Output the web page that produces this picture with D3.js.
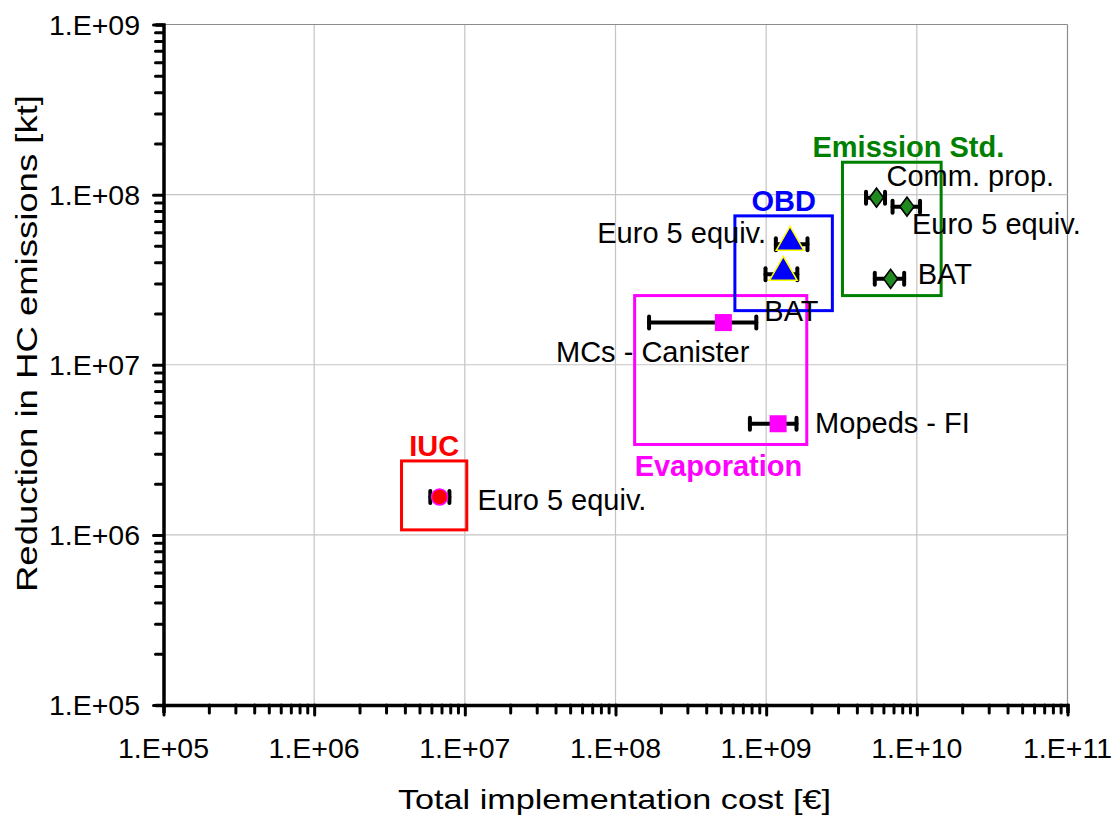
<!DOCTYPE html>
<html>
<head>
<meta charset="utf-8">
<script src="https://cdn.jsdelivr.net/npm/d3@7"></script>
<style>
  body { margin: 0; background: #fff; }
  svg text { font-family: "Liberation Sans", Arial, sans-serif; }
</style>
</head>
<body>
<div id="graph"></div>
<script>
//Javascript Document

// group names and colours
var groups = ["IUC", "Evaporation", "OBD", "Emission Std."];
var groupColors = ["#ff0000", "#ff00ff", "#0000ff", "#008000"];

// measures: name, group index, cost (x), low/high cost, HC reduction (y)
var names    = ["Euro 5 equiv.", "MCs - Canister", "Mopeds - FI", "Euro 5 equiv.", "BAT", "Comm. prop.", "Euro 5 equiv.", "BAT"];
var groupOf  = [0, 1, 1, 2, 2, 3, 3, 3];
var costs    = [6.8e6, 5.2e8, 1.2e9, 1.44e9, 1.30e9, 5.4e9, 8.6e9, 6.7e9];
var costLow  = [5.9e6, 1.67e8, 7.8e8, 1.16e9, 9.9e8, 4.6e9, 6.9e9, 5.26e9];
var costHigh = [7.9e6, 8.6e8, 1.59e9, 1.88e9, 1.61e9, 6.15e9, 1.05e10, 8.24e9];
var reductions = [1.67e6, 1.77e7, 4.5e6, 5.1e7, 3.4e7, 9.6e7, 8.5e7, 3.2e7];

// group boxes drawn round each set of measures: [xMin, xMax, yMin, yMax]
var boxX = [[3.8e6, 1.03e7], [1.34e8, 1.86e9], [6.2e8, 2.75e9], [3.21e9, 1.45e10]];
var boxY = [[1.07e6, 2.72e6], [3.4e6, 2.55e7], [2.08e7, 7.5e7], [2.55e7, 1.55e8]];

// axis ticks
var xTicks = [1e5, 1e6, 1e7, 1e8, 1e9, 1e10, 1e11];
var yTicks = [1e5, 1e6, 1e7, 1e8, 1e9];
var xTickLabels = ["1.E+05", "1.E+06", "1.E+07", "1.E+08", "1.E+09", "1.E+10", "1.E+11"];
var yTickLabels = ["1.E+05", "1.E+06", "1.E+07", "1.E+08", "1.E+09"];

(function(){
	"use strict";

	var width = 1113, height = 820;

	// label placement, pixels from the marker (layout only)
	var labelDx = [38, 26, 37, -24, -19, 10, 5, 27];
	var labelDy = [13, 39, 9, -1, 47, -12, 27, 5];
	var labelAnchor = ["start", "end", "start", "end", "start", "start", "start", "start"];

	var svg = d3.select("#graph").append("svg")
		.attr("width", width)
		.attr("height", height);

	var x = d3.scaleLog().domain([1e5, 1e11]).range([163.5, 1067.5]);
	var y = d3.scaleLog().domain([1e5, 1e9]).range([705, 24.5]);

	//gridlines
	var grid = svg.append("g").attr("class", "grid");
	grid.selectAll(".gx").data(xTicks.slice(1)).enter().append("line")
		.attr("x1", function(d) { return x(d); })
		.attr("x2", function(d) { return x(d); })
		.attr("y1", y(1e9)).attr("y2", y(1e5))
		.attr("stroke", function(d) { return d === 1e11 ? "#8c8c8c" : "#c4c4c4"; })
		.attr("stroke-width", 1.2);
	grid.selectAll(".gy").data(yTicks.slice(1)).enter().append("line")
		.attr("y1", function(d) { return y(d); })
		.attr("y2", function(d) { return y(d); })
		.attr("x1", x(1e5)).attr("x2", x(1e11))
		.attr("stroke", function(d) { return d === 1e9 ? "#8c8c8c" : "#c4c4c4"; })
		.attr("stroke-width", 1.2);

	//axes with minor ticks
	var xAxis = d3.axisBottom(x)
		.tickValues(x.ticks())
		.tickSize(8)
		.tickFormat("");
	var yAxis = d3.axisLeft(y)
		.tickValues(y.ticks())
		.tickSize(8)
		.tickFormat("");

	var gx = svg.append("g")
		.attr("transform", "translate(0," + y(1e5) + ")")
		.call(xAxis);
	var gy = svg.append("g")
		.attr("transform", "translate(" + x(1e5) + ",0)")
		.call(yAxis);

	[gx, gy].forEach(function(g) {
		g.select(".domain").attr("stroke", "#000").attr("stroke-width", 3.5);
		g.selectAll(".tick line").attr("stroke", "#000").attr("stroke-width", 3).attr("stroke-linecap", "round");
	});
	gx.selectAll(".tick line").attr("y2", function(d) { return xTicks.indexOf(d) >= 0 ? 10 : 8; });
	gy.selectAll(".tick line").attr("x2", function(d) { return yTicks.indexOf(d) >= 0 ? -10 : -8; });

	//tick labels
	svg.append("g").selectAll("text").data(xTicks).enter().append("text")
		.attr("x", function(d) { return x(d); })
		.attr("y", 758)
		.attr("text-anchor", "middle")
		.attr("font-size", "28.5px")
		.text(function(d, i) { return xTickLabels[i]; });
	svg.append("g").selectAll("text").data(yTicks).enter().append("text")
		.attr("x", 140)
		.attr("y", function(d) { return y(d) + 10; })
		.attr("text-anchor", "end")
		.attr("font-size", "28.5px")
		.text(function(d, i) { return yTickLabels[i]; });

	//axis titles
	svg.append("text")
		.attr("x", 398)
		.attr("y", 809)
		.attr("font-size", "28px")
		.attr("textLength", 433)
		.attr("lengthAdjust", "spacingAndGlyphs")
		.text("Total implementation cost [€]");
	svg.append("text")
		.attr("transform", "translate(37,592) rotate(-90)")
		.attr("font-size", "30px")
		.attr("textLength", 497)
		.attr("lengthAdjust", "spacingAndGlyphs")
		.text("Reduction in HC emissions [kt]");

	//group boxes
	svg.append("g").selectAll("rect").data(groups).enter().append("rect")
		.attr("x", function(d, i) { return x(boxX[i][0]); })
		.attr("width", function(d, i) { return x(boxX[i][1]) - x(boxX[i][0]); })
		.attr("y", function(d, i) { return y(boxY[i][1]); })
		.attr("height", function(d, i) { return y(boxY[i][0]) - y(boxY[i][1]); })
		.attr("fill", "none")
		.attr("stroke", function(d, i) { return groupColors[i]; })
		.attr("stroke-width", 3);

	//group titles: IUC, OBD, Emission above the box, Evaporation below
	svg.append("g").selectAll("text").data(groups).enter().append("text")
		.attr("x", function(d, i) {
			if (i === 1) return x(boxX[i][0]);
			if (i === 3) return x(boxX[i][0]) - 30;
			return (x(boxX[i][0]) + x(boxX[i][1])) / 2;
		})
		.attr("y", function(d, i) {
			if (i === 1) return y(boxY[i][0]) + 32;
			return y(boxY[i][1]) - 5;
		})
		.attr("text-anchor", function(d, i) { return (i === 1 || i === 3) ? "start" : "middle"; })
		.attr("font-size", "29px")
		.attr("font-weight", "bold")
		.attr("fill", function(d, i) { return groupColors[i]; })
		.text(function(d) { return d; });

	//error bars
	var idx = d3.range(names.length);
	var bars = svg.append("g").attr("class", "errbars")
		.attr("stroke", "#000")
		.attr("stroke-width", 4)
		.attr("stroke-linecap", "round");
	bars.selectAll(".bar").data(idx).enter().append("line")
		.attr("x1", function(i) { return x(costLow[i]); })
		.attr("x2", function(i) { return x(costHigh[i]); })
		.attr("y1", function(i) { return y(reductions[i]); })
		.attr("y2", function(i) { return y(reductions[i]); });
	bars.selectAll(".lo").data(idx).enter().append("line")
		.attr("x1", function(i) { return x(costLow[i]); })
		.attr("x2", function(i) { return x(costLow[i]); })
		.attr("y1", function(i) { return y(reductions[i]) - 6; })
		.attr("y2", function(i) { return y(reductions[i]) + 6; });
	bars.selectAll(".hi").data(idx).enter().append("line")
		.attr("x1", function(i) { return x(costHigh[i]); })
		.attr("x2", function(i) { return x(costHigh[i]); })
		.attr("y1", function(i) { return y(reductions[i]) - 6; })
		.attr("y2", function(i) { return y(reductions[i]) + 6; });

	//markers, one shape per group
	var shapes = [d3.symbolCircle, d3.symbolSquare, d3.symbolTriangle, d3.symbolDiamond];
	var sizes = [200, 290, 330, 130];
	var strokes = ["#ff00ff", "none", "#ffff00", "#000"];
	svg.append("g").selectAll("path").data(idx).enter().append("path")
		.attr("transform", function(i) {
			var g = groupOf[i];
			var dy = g === 2 ? -2 : 0;
			var sx = g === 3 ? " scale(1.15,0.9)" : "";
			return "translate(" + x(costs[i]) + "," + (y(reductions[i]) + dy) + ")" + sx;
		})
		.attr("d", function(i) { return d3.symbol().type(shapes[groupOf[i]]).size(sizes[groupOf[i]])(); })
		.attr("fill", function(i) { return groupOf[i] === 3 ? "#1f8a1f" : groupColors[groupOf[i]]; })
		.attr("stroke", function(i) { return strokes[groupOf[i]]; })
		.attr("stroke-width", 1.5);

	//measure labels
	svg.append("g").selectAll("text").data(idx).enter().append("text")
		.attr("x", function(i) { return x(costs[i]) + labelDx[i]; })
		.attr("y", function(i) { return y(reductions[i]) + labelDy[i]; })
		.attr("text-anchor", function(i) { return labelAnchor[i]; })
		.attr("font-size", "29px")
		.attr("fill", "#000")
		.text(function(i) { return names[i]; });

})();
</script>
</body>
</html>
